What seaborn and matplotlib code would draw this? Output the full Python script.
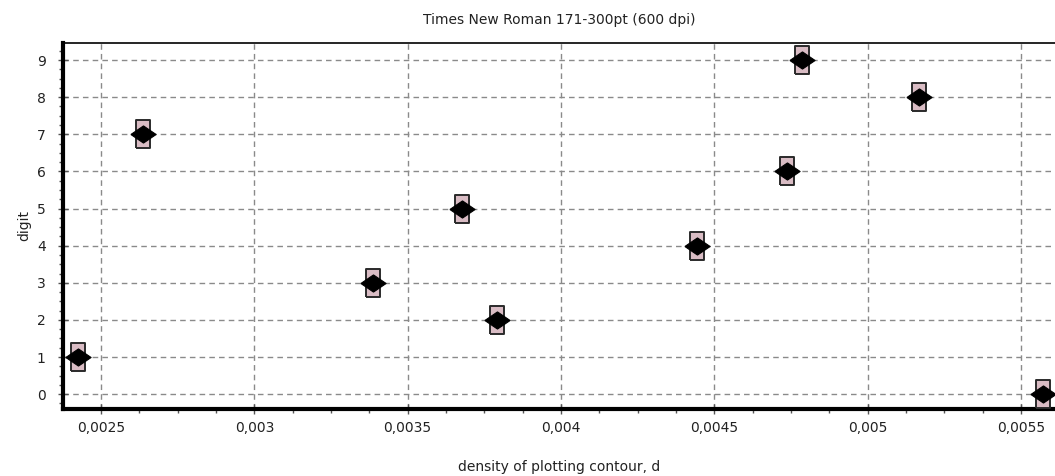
import numpy as np
import pandas as pd
import matplotlib
matplotlib.use("Agg")
import matplotlib.pyplot as plt
from matplotlib.ticker import FixedLocator, AutoMinorLocator
import seaborn as sns

# data
digits = [0, 1, 2, 3, 4, 5, 6, 7, 8, 9]
density = [0.005571, 0.002425, 0.003790, 0.003386, 0.004443,
           0.003677, 0.004737, 0.002637, 0.005166, 0.004787]
x_ticks = [0.0025, 0.003, 0.0035, 0.004, 0.0045, 0.005, 0.0055]
x_tick_labels = ["0,0025", "0,003", "0,0035", "0,004", "0,0045", "0,005", "0,0055"]
y_ticks = [0, 1, 2, 3, 4, 5, 6, 7, 8, 9]

df = pd.DataFrame({"density": density, "digit": digits})

sns.set_style("white")
plt.rcParams["font.family"] = ["DejaVu Sans"]

fig = plt.figure(figsize=(10.55, 4.76), dpi=100)
ax = fig.add_axes([63 / 1055, 1 - 409 / 476, 1 - 63 / 1055, (409 - 43) / 476])

# tall rectangle behind the diamond (pink squares above and below)
rect = [(-0.5, -1), (0.5, -1), (0.5, 1), (-0.5, 1), (-0.5, -1)]
diamond = [(-1, 0), (0, 0.68), (1, 0), (0, -0.68), (-1, 0)]

sns.scatterplot(data=df, x="density", y="digit", ax=ax, marker=rect, s=420,
                color="#d9bcc4", edgecolor="#2a2a2a", linewidth=1.4, zorder=3,
                clip_on=False)
sns.scatterplot(data=df, x="density", y="digit", ax=ax, marker=diamond, s=330,
                color="black", edgecolor="black", linewidth=0.8, zorder=4,
                clip_on=False)

ax.set_xlim(0.002376, 0.005611)
ax.set_ylim(-0.4, 9.46)

ax.xaxis.set_major_locator(FixedLocator(x_ticks))
ax.set_xticklabels(x_tick_labels)
ax.yaxis.set_major_locator(FixedLocator(y_ticks))
ax.xaxis.set_minor_locator(AutoMinorLocator(4))
ax.yaxis.set_minor_locator(AutoMinorLocator(4))

ax.grid(True, which="major", color="#8a8a8a", linestyle=(0, (4, 3)), linewidth=1)
ax.set_axisbelow(True)

ax.tick_params(axis="x", which="major", direction="inout", length=7, width=1,
               color="#555555", labelsize=10, labelcolor="#222222", pad=5)
ax.tick_params(axis="y", which="major", direction="inout", length=7, width=1,
               color="#555555", labelsize=10, labelcolor="#222222", pad=9)
ax.tick_params(axis="both", which="minor", direction="out", length=3, width=1,
               color="#555555")
ax.tick_params(axis="x", which="both", bottom=True)
ax.tick_params(axis="y", which="both", left=True)

for side in ["left", "bottom"]:
    ax.spines[side].set_linewidth(3)
    ax.spines[side].set_color("black")
ax.spines["top"].set_linewidth(1.2)
ax.spines["top"].set_color("black")
ax.spines["right"].set_visible(False)

ax.set_title("Times New Roman 171-300pt (600 dpi)", fontsize=10, color="#222222", pad=14)
ax.set_xlabel("density of plotting contour, d", fontsize=10, color="#222222", labelpad=18)
ax.set_ylabel("digit", fontsize=10, color="#222222", labelpad=4)

fig.savefig("out.png", dpi=100)
